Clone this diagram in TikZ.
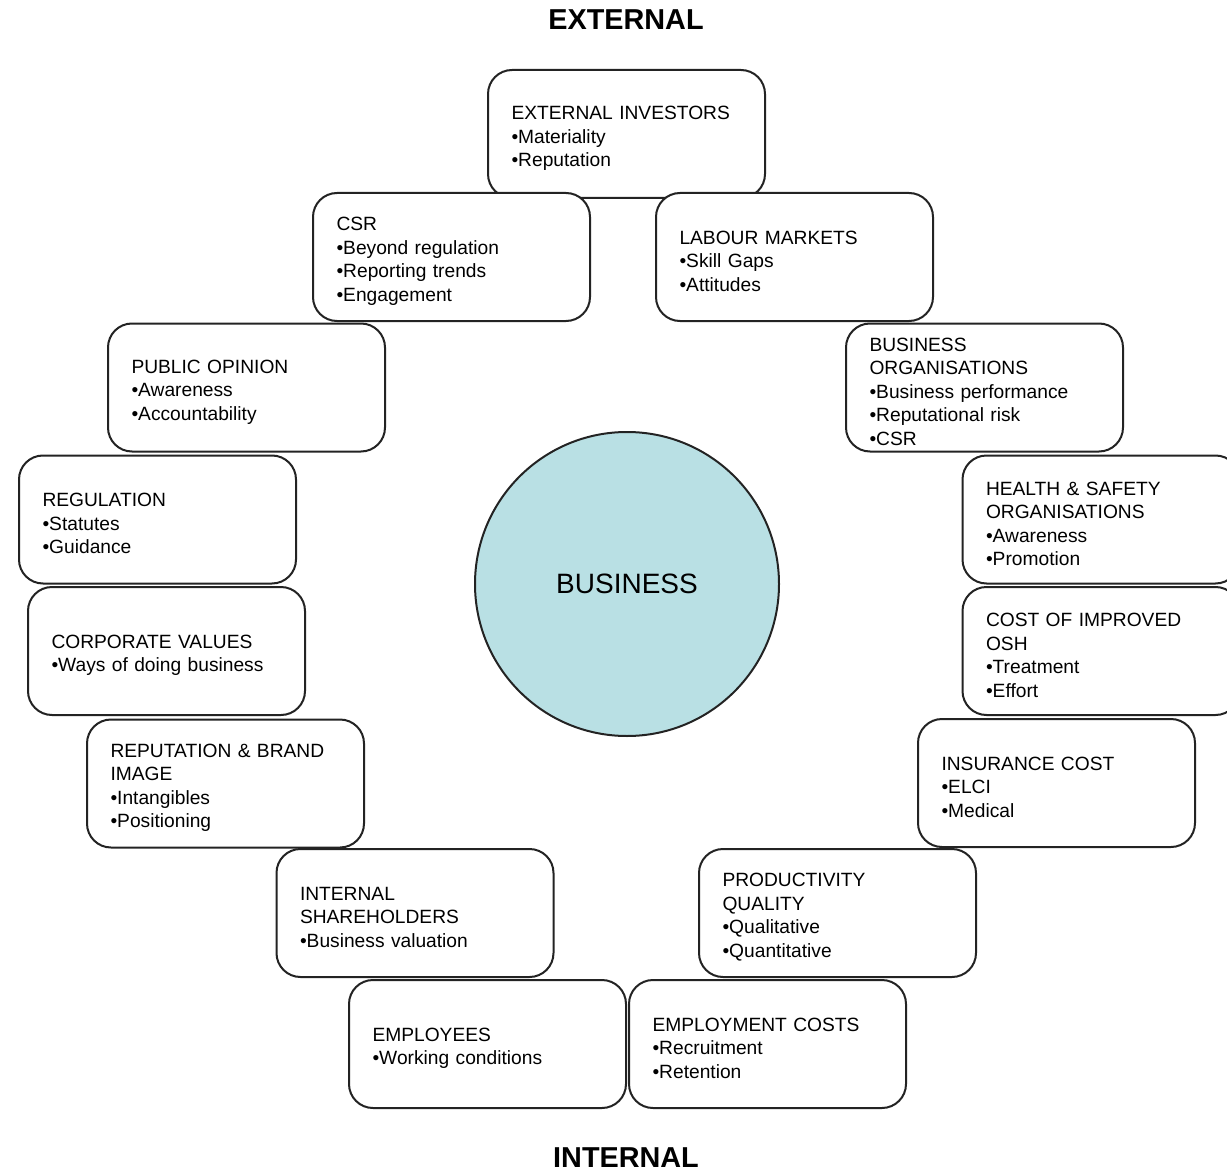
\documentclass[tikz,border=0pt]{standalone}
\usepackage{fontspec}
\setmainfont{Liberation Sans}
\definecolor{circfill}{RGB}{185,224,228}
\definecolor{linecol}{RGB}{35,35,35}
\begin{document}
\begin{tikzpicture}[x=0.5pt,y=-0.5pt,
  box/.style={draw=linecol, line width=1pt, fill=white, rounded corners=12pt,
    minimum width=138.5pt, minimum height=64pt, inner xsep=11.75pt, inner ysep=0pt,
    text width=115pt, align=left, font=\fontsize{9.6}{11.75}\selectfont,
    execute at begin node={\rule{0pt}{11pt}}},
  hub/.style={circle, draw=linecol, line width=1pt, fill=circfill, minimum size=152pt,
    font=\fontsize{14}{16}\selectfont},
  title/.style={font=\fontsize{14.4}{16}\selectfont\bfseries}]
\useasboundingbox (0,0) rectangle (1227,1172);
\node[title] (ext) at (626,20) {EXTERNAL};
\node[title] (int) at (626,1158) {INTERNAL};
\node[hub] (biz) at (627,584) {BUSINESS};
\node[box] (ei) at (626.5,134) {EXTERNAL INVESTORS\\•Materiality\\•Reputation};
\node[box] (csr) at (451.5,257) {CSR\\•Beyond regulation\\•Reporting trends\\•Engagement};
\node[box] (lab) at (794.5,257) {LABOUR MARKETS\\•Skill Gaps\\•Attitudes};
\node[box] (pub) at (246.5,387.5) {PUBLIC OPINION\\•Awareness\\•Accountability};
\node[box] (bo) at (984.5,387.5) {BUSINESS\\ORGANISATIONS\\•Business performance\\•Reputational risk\\•CSR};
\node[box] (reg) at (157.5,519.5) {REGULATION\\•Statutes\\•Guidance};
\node[box] (hs) at (1101,519.5) {HEALTH \& SAFETY\\ORGANISATIONS\\•Awareness\\•Promotion};
\node[box] (cv) at (166.5,651) {CORPORATE VALUES\\•Ways of doing business};
\node[box] (osh) at (1101,651) {COST OF IMPROVED\\OSH\\•Treatment\\•Effort};
\node[box] (rep) at (225.5,783.5) {REPUTATION \& BRAND\\IMAGE\\•Intangibles\\•Positioning};
\node[box] (ins) at (1056.5,783) {INSURANCE COST\\•ELCI\\•Medical};
\node[box] (sh) at (415,913) {INTERNAL\\SHAREHOLDERS\\•Business valuation};
\node[box] (prod) at (837.5,913) {PRODUCTIVITY\\QUALITY\\•Qualitative\\•Quantitative};
\node[box] (emp) at (487.5,1044) {EMPLOYEES\\•Working conditions};
\node[box] (ec) at (767.5,1044) {EMPLOYMENT COSTS\\•Recruitment\\•Retention};
\end{tikzpicture}
\end{document}
